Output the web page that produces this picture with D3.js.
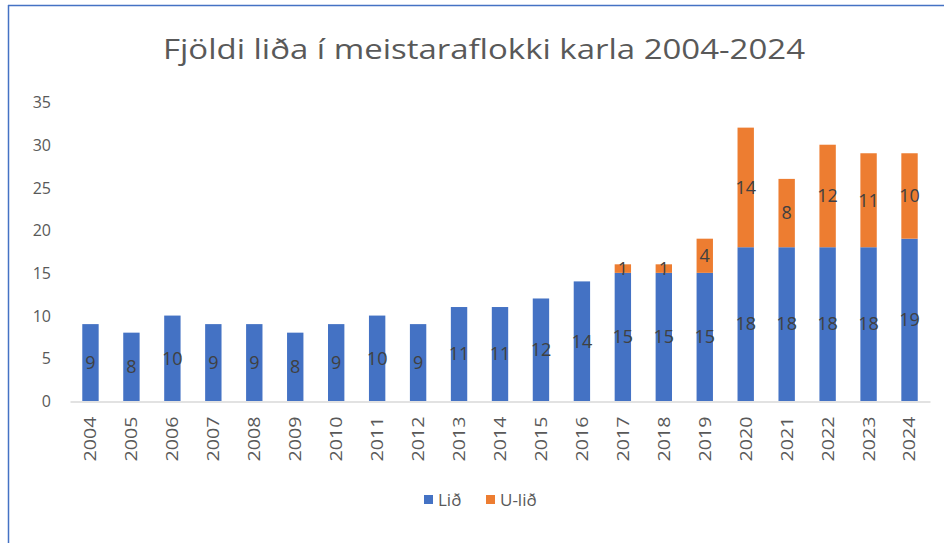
<!DOCTYPE html>
<html><head><meta charset="utf-8">
<script src="https://cdn.jsdelivr.net/npm/d3@7"></script>
<style>html,body{margin:0;padding:0;background:#fff;}svg{display:block;}</style>
</head><body>
<script>
const years = ["2004","2005","2006","2007","2008","2009","2010","2011","2012","2013","2014","2015","2016","2017","2018","2019","2020","2021","2022","2023","2024"];
const lid =  [9,8,10,9,9,8,9,10,9,11,11,12,14,15,15,15,18,18,18,18,19];
const ulid = [0,0,0,0,0,0,0,0,0,0,0,0,0,1,1,4,14,8,12,11,10];
const seriesNames = ["Lið","U-lið"];
const colors = ["#4472C4","#ED7D31"];
const yTicks = [0,5,10,15,20,25,30,35];
const title = "Fjöldi liða í meistaraflokki karla 2004-2024";

const W=944,H=543;
const svg=d3.select("body").append("svg").attr("width",W).attr("height",H);
svg.append("rect").attr("width",W).attr("height",H).attr("fill","#fff");
// frame
svg.append("line").attr("x1",8).attr("x2",W).attr("y1",5.5).attr("y2",5.5).attr("stroke","#4472C4").attr("stroke-width",1.5);
svg.append("line").attr("x1",8.5).attr("x2",8.5).attr("y1",5).attr("y2",H).attr("stroke","#4472C4").attr("stroke-width",1.5);

const x=d3.scaleBand().domain(years).range([70,930]).paddingInner(0.6).paddingOuter(0.3);
const y=d3.scaleLinear().domain([0,35]).range([401,102]);

svg.append("text").attr("x",484).attr("y",59).attr("text-anchor","middle")
 .attr("font-family","Open Sans, sans-serif").attr("font-size",27).attr("fill","#595959")
 .attr("textLength",642).attr("lengthAdjust","spacingAndGlyphs").text(title);

const yAxis=svg.append("g").attr("transform","translate(55,0)")
 .call(d3.axisLeft(y).tickValues(yTicks).tickSize(0).tickPadding(0));
yAxis.select(".domain").remove();
yAxis.selectAll("text").attr("font-family","Open Sans, sans-serif").attr("font-size",16).attr("fill","#595959").attr("dy","0.35em").attr("x",-4);

const rows=years.map((yr,i)=>({year:yr,"Lið":lid[i],"U-lið":ulid[i]}));
const stack=d3.stack().keys(seriesNames)(rows);

stack.forEach((s,si)=>{
  const g=svg.append("g");
  g.selectAll("rect").data(s).join("rect")
   .attr("x",d=>x(d.data.year)).attr("width",x.bandwidth())
   .attr("y",d=>y(d[1])).attr("height",d=>y(d[0])-y(d[1]))
   .attr("fill",colors[si]);
});

// x axis
const xAxis=svg.append("g").attr("transform","translate(0,401.5)")
 .call(d3.axisBottom(x).tickSize(0).tickPadding(0));
xAxis.select(".domain").attr("stroke","#d9d9d9").attr("stroke-width",1.5);
xAxis.selectAll("text").attr("font-family","Open Sans, sans-serif").attr("font-size",17).attr("fill","#595959")
 .attr("transform","rotate(-90)").attr("text-anchor","end").attr("x",-15).attr("y",0).attr("dy","0.35em")
 .attr("textLength",45).attr("lengthAdjust","spacingAndGlyphs");

// labels
stack.forEach((s,si)=>{
  svg.append("g").selectAll("text").data(s.filter(d=>d[1]-d[0]>0)).join("text")
   .attr("x",d=>x(d.data.year)+x.bandwidth()/2)
   .attr("y",d=>y((d[0]+d[1])/2)).attr("dy","0.35em")
   .attr("text-anchor","middle").attr("font-family","Open Sans, sans-serif").attr("font-size",18)
   .attr("fill","#404040").text(d=>d[1]-d[0]);
});

// legend
const leg=svg.append("g");
const legX=[424,486];
seriesNames.forEach((n,i)=>{
  leg.append("rect").attr("x",legX[i]).attr("y",495).attr("width",9).attr("height",9).attr("fill",colors[i]);
  leg.append("text").attr("x",legX[i]+14).attr("y",500).attr("dy","0.35em").attr("font-family","Open Sans, sans-serif")
   .attr("font-size",17).attr("fill","#595959").text(n);
});
</script>
</body></html>
